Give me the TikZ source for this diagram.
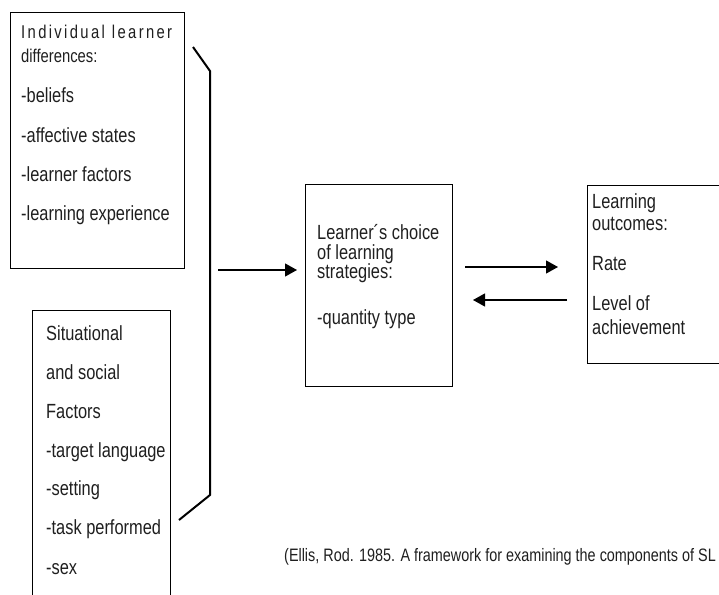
\documentclass[tikz,border=0pt]{standalone}
\usepackage{fontspec}
\setmainfont[FakeStretch=0.8]{Liberation Sans}
\usetikzlibrary{arrows.meta}
\begin{document}
\begin{tikzpicture}[x=1pt,y=-1pt,
  box/.style={draw, line width=1pt, inner sep=0pt, anchor=north west},
  txt/.style={anchor=base west, inner sep=0pt, text=black!88, font=\fontsize{20.5}{24}\selectfont},
  captxt/.style={anchor=base west, inner sep=0pt, text=black!88, font=\fontsize{18}{21}\selectfont},
  arr/.style={line width=1.2pt, -{Triangle[length=12pt,width=13pt]}},
  bracketline/.style={line width=2pt}]
\useasboundingbox (0,0) rectangle (719,594);
% boxes
\node[box, minimum width=174pt, minimum height=256pt] (ind) at (10,12) {};
\node[box, minimum width=147pt, minimum height=202pt] (mid) at (305,184) {};
\node[box, minimum width=140pt, minimum height=178pt] (out) at (587,185) {};
\coordinate (sitbl) at (32,600);
\coordinate (sittl) at (32,310);
\coordinate (sittr) at (170,310);
\coordinate (sitbr) at (170,600);
\draw[line width=1pt] (sitbl) -- (sittl) -- (sittr) -- (sitbr);
% texts box 1
\node[txt, font=\fontsize{18.5}{22}\selectfont] (t1) at (21,39) {\makebox[151pt][s]{I\hfill n\hfill d\hfill i\hfill v\hfill i\hfill d\hfill u\hfill a\hfill l\hfill\hfill\hfill l\hfill e\hfill a\hfill r\hfill n\hfill e\hfill r}};
\node[txt, font=\fontsize{18.5}{22}\selectfont] (t2) at (21,63) {differences:};
\node[txt] (t3) at (21,102) {-beliefs};
\node[txt] (t4) at (21,142) {-affective states};
\node[txt] (t5) at (21,181) {-learner factors};
\node[txt] (t6) at (21,220) {-learning experience};
% texts box 2
\node[txt] (s1) at (46,340) {Situational};
\node[txt] (s2) at (46,379) {and social};
\node[txt] (s3) at (46,418) {Factors};
\node[txt] (s4) at (46,457) {-target language};
\node[txt] (s5) at (46,495) {-setting};
\node[txt] (s6) at (46,534) {-task performed};
\node[txt] (s7) at (46,574) {-sex};
% middle texts
\node[txt] (m1) at (317,239) {Learner´s choice};
\node[txt] (m2) at (317,259) {of learning};
\node[txt] (m3) at (317,278) {strategies:};
\node[txt] (m4) at (317,324) {-quantity type};
% outcome texts
\node[txt] (o1) at (592,208) {Learning};
\node[txt] (o2) at (592,230) {outcomes:};
\node[txt] (o3) at (592,270) {Rate};
\node[txt] (o4) at (592,310) {Level of};
\node[txt] (o5) at (592,334) {achievement};
% caption
\node[captxt] (cap) at (284,561) {(Ellis, Rod. 1985. A framework for examining the components of SL};
% bracket
\coordinate (bka) at (193,47);
\coordinate (bkb) at (210,71);
\coordinate (bkc) at (210,495);
\coordinate (bkd) at (179,520);
\draw[bracketline] (bka) -- (bkb) -- (bkc) -- (bkd);
% arrows
\coordinate (a1s) at (218,270);
\coordinate (a1e) at (297,270);
\draw[arr] (a1s) -- (a1e);
\coordinate (a2s) at (465,267);
\coordinate (a2e) at (558,267);
\draw[arr] (a2s) -- (a2e);
\coordinate (a3s) at (567,300);
\coordinate (a3e) at (473,300);
\draw[arr] (a3s) -- (a3e);
\end{tikzpicture}
\end{document}
